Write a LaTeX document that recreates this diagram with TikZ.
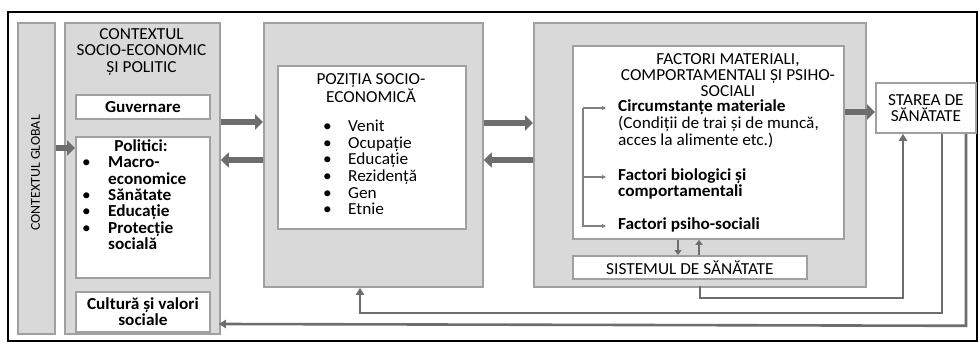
\documentclass[tikz,border=0pt]{standalone}
\usepackage{fontspec}
\setmainfont[FakeStretch=1.03]{Carlito}
\usetikzlibrary{arrows.meta}

\definecolor{panelgray}{HTML}{D9D9D9}
\definecolor{rimgray}{HTML}{A0A0A0}
\definecolor{linkgray}{HTML}{6D6D6D}

\tikzset{
  panel/.style={draw=rimgray, fill=panelgray, line width=1.8pt, inner sep=0pt, anchor=north west},
  card/.style={draw=rimgray, fill=white, line width=1.8pt, inner sep=0pt, align=center, anchor=north west},
  caps/.style={align=center, inner sep=0pt},
  itemtxt/.style={anchor=west, inner sep=0pt, text height=11pt, text depth=3.5pt},
  fatarrow/.style={draw=linkgray, line width=6pt, -{Triangle[length=8pt,width=15pt]}},
  midarrow/.style={draw=linkgray, line width=2.6pt, -{Triangle[length=5pt,width=7pt]}},
  loopline/.style={draw=linkgray, line width=2.6pt, -{Triangle[length=7pt,width=8pt]}},
  tinyarrow/.style={draw=gray, line width=1.2pt, -{Triangle[length=4pt,width=4pt]}},
}

\begin{document}
\fontsize{16.8}{16.5}\selectfont
\begin{tikzpicture}[x=1pt, y=-1pt]
    \useasboundingbox (0,0) rectangle (978,342);
    \draw[line width=2pt] (8,12) rectangle (977,341);

    \node[panel, minimum width=37pt, minimum height=311pt] (global) at (17,22) {};
    \node[rotate=90, font=\fontsize{13.5}{14}\selectfont] (globaltxt) at (35.5,173) {CONTEXTUL GLOBAL};

    \node[panel, minimum width=155pt, minimum height=311pt] (socio) at (64,22) {};
    \node[caps] (sociotitle) at (141.5,52) {CONTEXTUL\\SOCIO-ECONOMIC\\ȘI POLITIC};
    \node[card, minimum width=134pt, minimum height=24pt, font=\bfseries] (guv) at (75,94) {Guvernare};
    \node[card, minimum width=134pt, minimum height=141pt] (politici) at (75,136) {};
    \node[itemtxt, anchor=center, font=\bfseries] (poltitle) at (141,148) {Politici:};
    \foreach \y/\txt [count=\i] in {164/Macro-, 180.5/economice, 197/Sănătate, 213/Educație, 229.5/Protecție, 246/socială}
        \node[itemtxt, font=\bfseries] (pol\i) at (108,\y) {\txt};
    \foreach \y [count=\i] in {164, 197, 213, 229.5}
        \node[itemtxt] (poldot\i) at (82,\y) {\textbullet};
    \node[card, minimum width=134pt, minimum height=40pt, font=\bfseries] (cultura) at (75,291) {Cultură și valori\\sociale};

    \node[panel, minimum width=219pt, minimum height=264pt] (pozbox) at (263,22) {};
    \node[card, minimum width=188pt, minimum height=163pt] (poz) at (277,65) {};
    \node[caps] (poztitle) at (371,88) {POZIȚIA SOCIO-\\ECONOMICĂ};
    \foreach \txt [count=\i from 0] in {Venit, Ocupație, Educație, Rezidență, Gen, Etnie} {
        \node[itemtxt] (dot\i) at (323,{128+16.6*\i}) {\textbullet};
        \node[itemtxt] (item\i) at (348,{128+16.6*\i}) {\txt};
    }

    \node[panel, minimum width=332pt, minimum height=264pt] (factbox) at (533,22) {};
    \node[card, minimum width=271pt, minimum height=193pt] (factors) at (572,45) {};
    \node[caps, font=\fontsize{16.8}{16}\selectfont] (facttitle) at (728,75.5) {FACTORI MATERIALI,\\COMPORTAMENTALI ȘI PSIHO-\\SOCIALI};
    \node[itemtxt, font=\bfseries] (circ) at (618,108) {Circumstanțe materiale};
    \node[itemtxt] (cond1) at (618,125) {(Condiții de trai și de muncă,};
    \node[itemtxt] (cond2) at (618,142) {acces la alimente etc.)};
    \node[itemtxt, font=\bfseries] (bio1) at (618,177) {Factori biologici și};
    \node[itemtxt, font=\bfseries] (bio2) at (618,193) {comportamentali};
    \node[itemtxt, font=\bfseries] (psi) at (618,226) {Factori psiho-sociali};
    \node[card, minimum width=234pt, minimum height=23pt] (sistem) at (572,255) {SISTEMUL DE SĂNĂTATE};

    \node[card, minimum width=100pt, minimum height=50pt] (stare) at (875,82) {STAREA DE\\SĂNĂTATE};

    \coordinate (fork) at (583,108);
    \draw[tinyarrow] (fork) -- ([xshift=-12pt]circ.west);
    \draw[tinyarrow] (fork |- bio1.west) -- ([xshift=-12pt]bio1.west);
    \draw[tinyarrow] (fork) |- ([xshift=-12pt]psi.west);

    \draw[fatarrow] (global.east |- 0,148) -- (politici.west |- 0,148);
    \draw[fatarrow] (socio.east |- 0,122) -- (pozbox.west |- 0,122);
    \draw[fatarrow] (pozbox.west |- 0,160) -- (socio.east |- 0,160);
    \draw[fatarrow] (pozbox.east |- 0,123) -- (factbox.west |- 0,123);
    \draw[fatarrow] (factbox.west |- 0,160) -- (pozbox.east |- 0,160);
    \draw[fatarrow] (factors.east |- 0,112) -- (stare.west |- 0,112);

    \draw[midarrow] (factors.south -| 678,0) -- (sistem.north -| 678,0);
    \draw[midarrow] (sistem.north -| 699,0) -- (factors.south -| 699,0);

    \coordinate (sysout) at (700,286);
    \draw[loopline] (sysout) -- ++(0,12) -| ([xshift=28pt]stare.south west);
    \draw[loopline] ([xshift=67pt]stare.south west) -- ++(0,179) -| ([xshift=97pt]pozbox.south west);
    \draw[loopline, shorten >=-2pt] ([xshift=91pt]stare.south west) -- ++(0,192) -- (socio.east |- 0,324);
\end{tikzpicture}
\end{document}
